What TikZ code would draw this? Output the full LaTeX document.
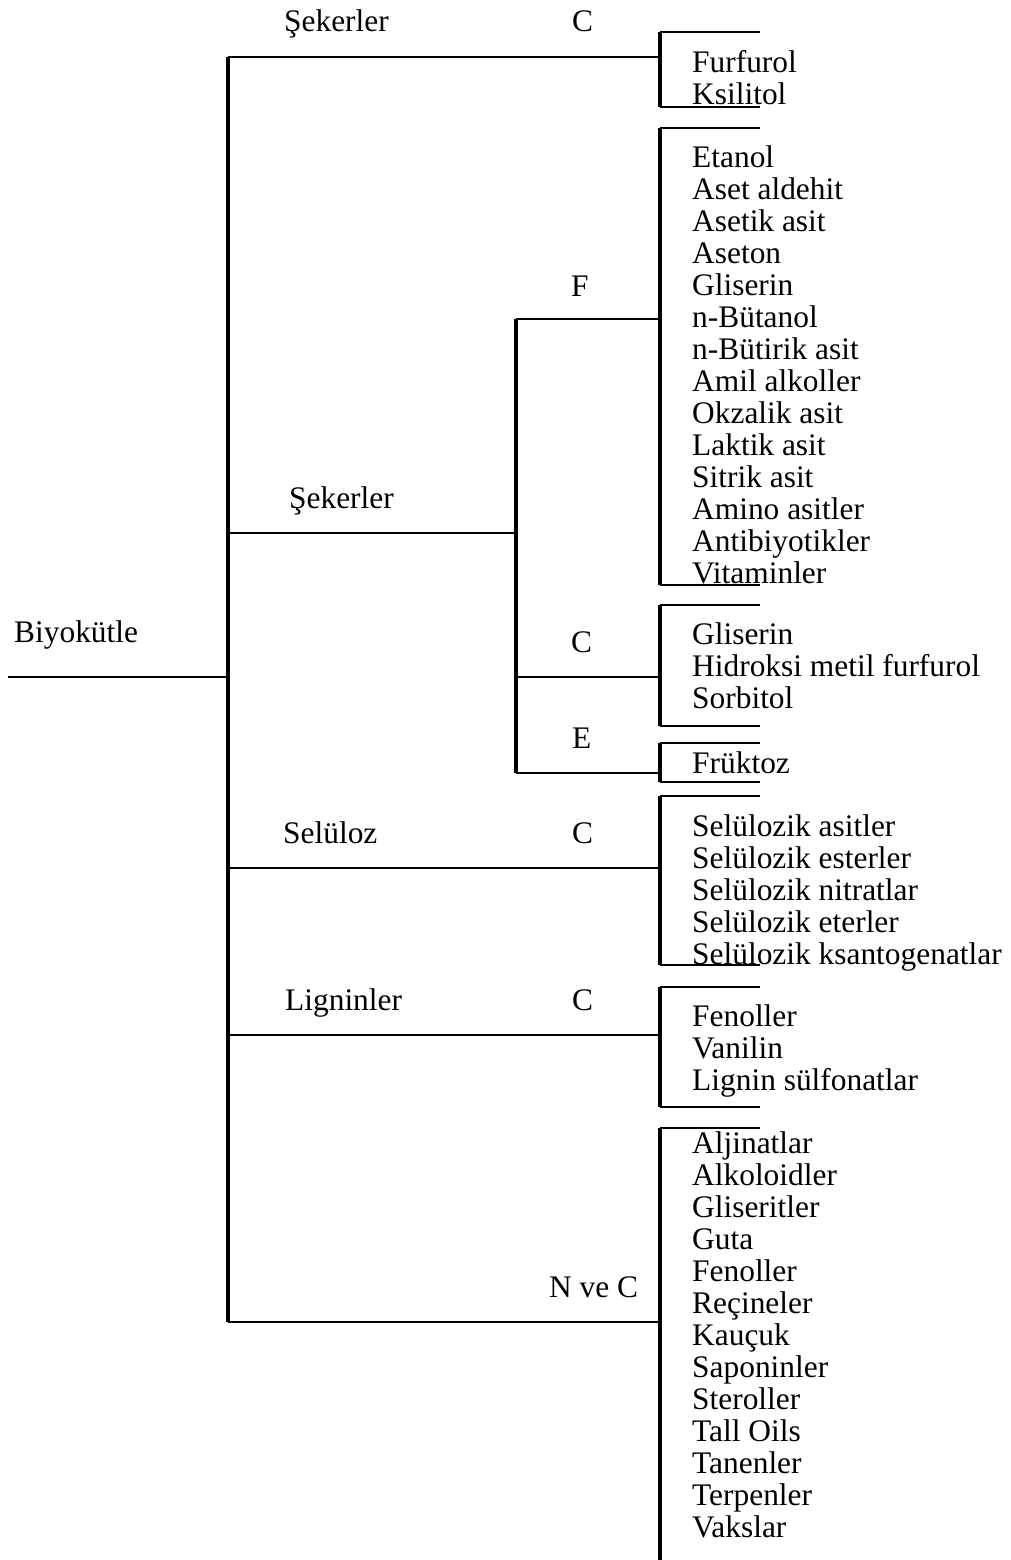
\documentclass[tikz,border=0pt]{standalone}
\usepackage{fontspec}
\setmainfont{Liberation Serif}
\begin{document}
\begin{tikzpicture}[x=1pt,y=-1pt,
  hline/.style={line width=2.6pt},
  vline/.style={line width=3.1pt},
  lbl/.style={anchor=base west, inner sep=0pt, font=\fontsize{31.4}{32}\selectfont},
  prod/.style={anchor=base west, inner sep=0pt, font=\fontsize{31.4}{32}\selectfont}]
\useasboundingbox (0,0) rectangle (1011,1560);

% product bracket: name, top y, bottom y
\newcommand\prodbracket[3]{%
  \coordinate (#1-t) at (660,#2);
  \coordinate (#1-b) at (660,#3);
  \coordinate (#1-tr) at (760,#2);
  \coordinate (#1-br) at (760,#3);
  \draw[hline] (#1-tr) -- (#1-t);
  \draw[vline] (#1-t) -- (#1-b);
  \draw[hline] (#1-b) -- (#1-br);}

% root and main trunk
\node[lbl] (root) at (14,642) {Biyokütle};
\coordinate (rootL) at (8,677);
\coordinate (trunk) at (228,677);
\coordinate (m1) at (228,57);
\coordinate (m2) at (228,533);
\coordinate (m3) at (228,868);
\coordinate (m4) at (228,1035);
\coordinate (m5) at (228,1322);
\draw[hline] (rootL) -- (trunk);
\draw[vline] (m1) -- (m5);

% sub trunk for the sugar branch
\coordinate (s0) at (516,533);
\coordinate (s1) at (516,319);
\coordinate (s2) at (516,677);
\coordinate (s3) at (516,773);
\draw[vline] (s1) -- (s3);

% brackets
\prodbracket{b1}{32}{107}
\prodbracket{bf}{128}{585}
\prodbracket{bc}{605}{726}
\prodbracket{be}{743}{782}
\prodbracket{bs}{796}{965}
\prodbracket{bl}{987}{1107}
\coordinate (bn-t) at (660,1128);
\coordinate (bn-tr) at (760,1128);
\coordinate (bn-b) at (660,1560);
\draw[hline] (bn-tr) -- (bn-t);
\draw[vline] (bn-t) -- (bn-b);

% branch connectors
\coordinate (j1) at (660,57);
\coordinate (jf) at (660,319);
\coordinate (jc) at (660,677);
\coordinate (je) at (660,773);
\coordinate (js) at (660,868);
\coordinate (jl) at (660,1035);
\coordinate (jn) at (660,1322);
\draw[hline] (m1) -- (j1);
\draw[hline] (m2) -- (s0);
\draw[hline] (s1) -- (jf);
\draw[hline] (s2) -- (jc);
\draw[hline] (s3) -- (je);
\draw[hline] (m3) -- (js);
\draw[hline] (m4) -- (jl);
\draw[hline] (m5) -- (jn);

% branch labels
\node[lbl] (l1) at (284,32) {Şekerler};
\node[lbl] (p1) at (572,32) {C};
\node[lbl] (l2) at (289,508) {Şekerler};
\node[lbl] (pf) at (571,296) {F};
\node[lbl] (pc) at (571,652) {C};
\node[lbl] (pe) at (572,748) {E};
\node[lbl] (l3) at (283,843) {Selüloz};
\node[lbl] (p3) at (572,843) {C};
\node[lbl] (l4) at (285,1010) {Ligninler};
\node[lbl] (p4) at (572,1010) {C};
\node[lbl] (p5) at (549,1297) {N ve C};

% product lists
\foreach \t [count=\i from 0] in {Furfurol, Ksilitol}
  \node[prod] (a\i) at (692,{73+32*\i}) {\t};
\foreach \t [count=\i from 0] in {Etanol, Aset aldehit, Asetik asit, Aseton,
    Gliserin, n-Bütanol, n-Bütirik asit, Amil alkoller, Okzalik asit,
    Laktik asit, Sitrik asit, Amino asitler, Antibiyotikler, Vitaminler}
  \node[prod] (f\i) at (692,{167+32*\i}) {\t};
\foreach \t [count=\i from 0] in {Gliserin, Hidroksi metil furfurol, Sorbitol}
  \node[prod] (c\i) at (692,{644+32*\i}) {\t};
\node[prod] (e0) at (692,773) {Früktoz};
\foreach \t [count=\i from 0] in {Selülozik asitler, Selülozik esterler,
    Selülozik nitratlar, Selülozik eterler, Selülozik ksantogenatlar}
  \node[prod] (s\i) at (692,{836+32*\i}) {\t};
\foreach \t [count=\i from 0] in {Fenoller, Vanilin, Lignin sülfonatlar}
  \node[prod] (g\i) at (692,{1026+32*\i}) {\t};
\foreach \t [count=\i from 0] in {Aljinatlar, Alkoloidler, Gliseritler, Guta,
    Fenoller, Reçineler, Kauçuk, Saponinler, Steroller, Tall Oils, Tanenler,
    Terpenler, Vakslar}
  \node[prod] (n\i) at (692,{1153+32*\i}) {\t};
\end{tikzpicture}
\end{document}
